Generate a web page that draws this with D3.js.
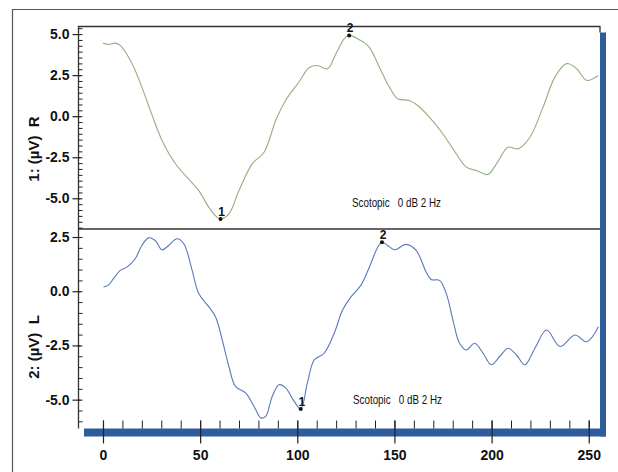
<!DOCTYPE html>
<html>
<head>
<meta charset="utf-8">
<script src="https://cdn.jsdelivr.net/npm/d3@7/dist/d3.min.js"></script>
<style>
  body { margin: 0; background: #fff; }
  svg { display: block; }
  .lbl { font-family: "Liberation Sans Narrow", "Arial Narrow", "Liberation Sans", sans-serif; font-weight: bold; font-size: 14px; fill: #111; }
  .note { font-family: "Liberation Sans Narrow", "Arial Narrow", "Liberation Sans", sans-serif; font-size: 13.5px; fill: #111; }
</style>
</head>
<body>
<div id="chart"></div>
<script>
// ---------- DATA ---------- //
// channel 1 : right eye (ms, uV)
var timeR = [0, 3, 6.3, 9, 15, 20, 25, 30.4, 37.3, 44, 49.3, 54.5, 58.8, 60.5, 64.8, 70, 76.8, 82.9, 88.9, 94,
  101, 106, 110.4, 115.5, 119.9, 124.2, 126.7, 131.9, 137, 142.2, 147.4, 151.7, 157.7, 162, 168, 174.9, 181.8,
  187, 192.2, 198.1, 202.5, 208.5, 213.6, 219.7, 226.5, 232.6, 238.6, 243.8, 248.9, 254.9];
var valueR = [4.45, 4.37, 4.45, 4.3, 3.2, 1.77, 0.15, -1.48, -2.9, -3.82, -4.53, -5.55, -6.16, -6.26, -5.95, -4.53,
  -2.9, -2.2, -0.26, 0.96, 2.1, 2.95, 3.09, 2.89, 3.8, 4.72, 4.92, 4.66, 4.21, 2.99, 1.77, 1.06, 0.96, 0.65, -0.06,
  -1.07, -2.29, -3.1, -3.31, -3.55, -2.9, -1.89, -1.99, -1.28, 0.55, 2.38, 3.2, 2.89, 2.18, 2.48];

// channel 2 : left eye
var timeL = [0.3, 2.8, 5.4, 8.9, 12.3, 16.6, 20, 23.5, 26.9, 30.4, 33.8, 38.1, 41.6, 45.9, 49.3, 54.5, 57.9, 61.4,
  64.8, 68.2, 73.4, 77.7, 81.2, 83.7, 87.1, 90.6, 94, 98.4, 101.8, 105.2, 108.7, 113.8, 119, 123.3, 127.6, 132.8,
  137.1, 141.4, 143.6, 146.5, 150, 156, 161.2, 166.3, 168.9, 173.2, 176.7, 180.1, 183.5, 187, 191.3, 195.6, 199.9,
  204.2, 208.5, 212.8, 217.1, 222.3, 228.3, 235.2, 242.9, 249, 255];
var valueL = [0.2, 0.28, 0.58, 0.96, 1.11, 1.5, 2.11, 2.46, 2.34, 1.91, 2.11, 2.42, 2.19, 0.96, -0.11, -0.72, -1.18,
  -2.25, -3.47, -4.39, -4.69, -5.3, -5.84, -5.77, -4.85, -4.31, -4.46, -5.08, -5.43, -4.23, -3.17, -2.86, -1.94,
  -0.87, -0.26, 0.28, 1.11, 2.03, 2.26, 2.11, 1.91, 2.16, 1.88, 0.89, 0.54, 0.5, -0.11, -1.33, -2.4, -2.71, -2.4,
  -2.86, -3.39, -3.01, -2.63, -2.94, -3.39, -2.63, -1.79, -2.55, -2.02, -2.33, -1.64];

// marked peaks
var peakNames = ["1", "2"];
var peakTimeR = [60.5, 126.7];
var peakValueR = [-6.26, 4.92];
var peakTimeL = [101.8, 143.6];
var peakValueL = [-5.43, 2.26];

// ticks
var xMajor = [0, 50, 100, 150, 200, 250];
var xMinor = d3.range(0, 251, 10);
var yMajorR = [5.0, 2.5, 0.0, -2.5, -5.0];
var yMajorL = [2.5, 0.0, -2.5, -5.0];
var noteText = "Scotopic\u00a0\u00a0 0 dB 2 Hz";

// ---------- LAYOUT ---------- //
var W = 618, H = 472;
var pL = 78.5, pR = 600, pT = 26.5, pM = 229, pB = 428.5;

var svg = d3.select("#chart").append("svg")
  .attr("width", W)
  .attr("height", H);

// outer frame
svg.append("path")
  .attr("d", "M12.5," + H + "V9.5H" + W)
  .attr("fill", "none")
  .attr("stroke", "#555")
  .attr("stroke-width", 1.2);

// scales
var x = d3.scaleLinear().domain([-12.6, 255.8]).range([pL, pR]);
var yR = d3.scaleLinear().domain([-6.87, 5.37]).range([pM, pT + 1.5]);
var yL = d3.scaleLinear().domain([-6.33, 2.87]).range([pB, pM]);

// blue shadow
var blue = "#2f5c9c";
svg.append("rect").attr("x", pR).attr("y", pT + 6).attr("width", 6).attr("height", pB - pT + 2).attr("fill", blue);
svg.append("rect").attr("x", pL + 5.5).attr("y", pB).attr("width", pR - pL + 0.5).attr("height", 8).attr("fill", blue);

// plot frame
svg.append("path")
  .attr("d", "M" + pL + "," + pB + "V" + pT + "H" + pR + "V" + (pT + 6))
  .attr("fill", "none")
  .attr("stroke", "#333")
  .attr("stroke-width", 1.3);
svg.append("line")
  .attr("x1", pL).attr("x2", pR)
  .attr("y1", pM).attr("y2", pM)
  .attr("stroke", "#333")
  .attr("stroke-width", 1.3);

// ---------- AXES ---------- //
function yAxes (y, major, minorStep, lo, hi) {
  var minor = [];
  for (var v = 5.0; v >= lo; v -= minorStep) { if (v <= hi) minor.push(v); }
  for (var v = 5.0 + minorStep; v <= hi; v += minorStep) minor.push(v);

  svg.append("g")
    .attr("transform", "translate(" + pL + ",0)")
    .call(d3.axisRight(y).tickValues(minor).tickSize(4).tickFormat(""))
    .call(g => g.select(".domain").remove())
    .selectAll("line").attr("stroke", "#222");

  var g = svg.append("g")
    .attr("transform", "translate(" + (pL + 2) + ",0)")
    .call(d3.axisLeft(y).tickValues(major).tickSize(8).tickPadding(3).tickFormat(d => d.toFixed(1)));
  g.select(".domain").remove();
  g.selectAll("line").attr("stroke", "#222").attr("stroke-width", 1.2);
  g.selectAll("text").attr("class", "lbl").attr("fill", null);
}
yAxes(yR, yMajorR, 2.5 / 7, -6.87, 5.37);
yAxes(yL, yMajorL, 0.5, -6.33, 2.87);

// x axis
svg.append("g")
  .attr("transform", "translate(0," + pB + ")")
  .call(d3.axisTop(x).tickValues(xMinor).tickSize(8).tickFormat(""))
  .call(g => g.select(".domain").remove())
  .selectAll("line").attr("stroke", "#222");

var xg = svg.append("g")
  .attr("transform", "translate(0," + (pB - 8) + ")")
  .call(d3.axisBottom(x).tickValues(xMajor).tickSize(23).tickPadding(7));
xg.select(".domain").remove();
xg.selectAll("line").attr("stroke", "#222").attr("stroke-width", 1.2);
xg.selectAll("text").attr("class", "lbl").attr("fill", null);

// axis titles
function yTitle (txt, cy) {
  svg.append("text")
    .attr("class", "lbl")
    .style("font-size", "15px")
    .attr("transform", "translate(39," + cy + ") rotate(-90)")
    .attr("text-anchor", "middle")
    .attr("xml:space", "preserve")
    .text(txt);
}
yTitle("1: (\u00b5V)  R", 149);
yTitle("2: (\u00b5V)  L", 347);

// ---------- TRACES ---------- //
function trace (ts, vs, y, color) {
  var line = d3.line()
    .x(d => x(d[0]))
    .y(d => y(d[1]))
    .curve(d3.curveCatmullRom.alpha(0.5));
  svg.append("path")
    .datum(d3.zip(ts, vs))
    .attr("d", line)
    .attr("fill", "none")
    .attr("stroke", color)
    .attr("stroke-width", 1.1);
}
trace(timeR, valueR, yR, "#93b07f");
trace(timeL, valueL, yL, "#5879bb");

// peak markers
function peaks (ts, vs, y) {
  ts.forEach(function (t, i) {
    svg.append("circle")
      .attr("cx", x(t)).attr("cy", y(vs[i]))
      .attr("r", 2)
      .attr("fill", "#111");
    svg.append("text")
      .attr("class", "lbl")
      .style("font-size", "12px")
      .attr("x", x(t) + 1).attr("y", y(vs[i]) - 3)
      .attr("text-anchor", "middle")
      .text(peakNames[i]);
  });
}
peaks(peakTimeR, peakValueR, yR);
peaks(peakTimeL, peakValueL, yL);

// stimulus note (narrow print, squeezed to the width seen in the original)
function note (nx, ny) {
  svg.append("text")
    .attr("class", "note")
    .attr("x", nx).attr("y", ny)
    .attr("textLength", 89)
    .attr("lengthAdjust", "spacingAndGlyphs")
    .text(noteText);
}
note(352, 207);
note(353, 404);
</script>
</body>
</html>
